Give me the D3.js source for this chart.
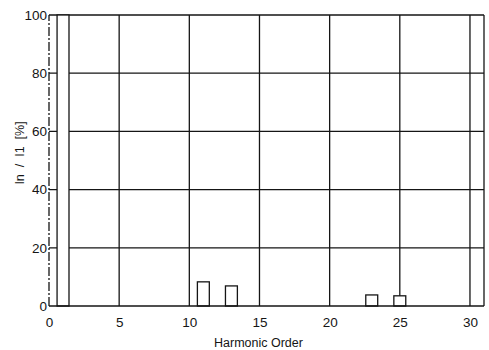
<!DOCTYPE html>
<html>
<head>
<meta charset="utf-8">
<script src="https://cdn.jsdelivr.net/npm/d3@7.9.0/dist/d3.min.js"></script>
<style>
  body { margin: 0; background: #fff; }
  svg { display: block; font-family: "Liberation Sans", Arial, sans-serif; }
</style>
</head>
<body>
<div id="chart"></div>
<script>
// harmonic spectrum, In / I1 in percent
const orders = [1, 11, 13, 23, 25];
const percents = [100, 8.3, 6.9, 3.8, 3.5];
const xTicks = [0, 5, 10, 15, 20, 25, 30];
const yTicks = [0, 20, 40, 60, 80, 100];

const width = 489, height = 350;
const margin = { top: 15, right: 5, bottom: 44, left: 49 };

const svg = d3.select('#chart').append('svg')
  .attr('width', width)
  .attr('height', height);

const x = d3.scaleLinear().domain([0, 31]).range([margin.left, width - margin.right]);
const y = d3.scaleLinear().domain([0, 100]).range([height - margin.bottom, margin.top]);

const ink = '#151515';

// grid
const grid = svg.append('g').attr('stroke', ink).attr('stroke-width', 1.3);
grid.selectAll('line.h')
  .data(yTicks.filter(d => d > 0))
  .join('line')
  .attr('class', 'h')
  .attr('x1', x(0)).attr('x2', x(31))
  .attr('y1', d => y(d)).attr('y2', d => y(d));
grid.selectAll('line.v')
  .data(xTicks.filter(d => d > 0).concat([31]))
  .join('line')
  .attr('class', 'v')
  .attr('x1', d => x(d)).attr('x2', d => x(d))
  .attr('y1', y(0)).attr('y2', y(100));

// bars
const bw = 0.85;
svg.append('g').selectAll('rect')
  .data(orders)
  .join('rect')
  .attr('x', d => x(d - bw / 2))
  .attr('width', x(bw) - x(0))
  .attr('y', (d, i) => y(percents[i]))
  .attr('height', (d, i) => y(0) - y(percents[i]))
  .attr('fill', '#fff')
  .attr('stroke', ink)
  .attr('stroke-width', 1.3);

// axes
const xAxis = svg.append('g')
  .attr('transform', `translate(0,${y(0)})`)
  .call(d3.axisBottom(x).tickValues(xTicks).tickSize(0).tickPadding(11));
xAxis.select('.domain').attr('stroke', ink).attr('stroke-width', 1.5).attr('d', `M${x(0)},0H${x(31)}`);

const yAxis = svg.append('g')
  .attr('transform', `translate(${x(0)},0)`)
  .call(d3.axisLeft(y).tickValues(yTicks).tickSize(0).tickPadding(2));
yAxis.select('.domain').attr('stroke', ink).attr('stroke-width', 1.3)
  .attr('stroke-dasharray', '9,2,2,2')
  .attr('d', `M0,${y(0)}V${y(100)}`);

svg.selectAll('.tick text')
  .attr('fill', ink)
  .attr('font-size', 13.5)
  .attr('font-family', '"Liberation Sans Narrow", "Liberation Sans", Arial, sans-serif');

svg.append('text')
  .attr('x', x(15.5) - 8)
  .attr('y', 347)
  .attr('text-anchor', 'middle')
  .attr('font-size', 12.5)
  .attr('fill', ink)
  .text('Harmonic Order');

svg.append('text')
  .attr('transform', `translate(24,${153}) rotate(-90)`)
  .attr('text-anchor', 'middle')
  .attr('font-size', 12.5)
  .attr('fill', ink)
  .attr('xml:space', 'preserve')
  .text('In  /  I1  [%]');
</script>
</body>
</html>
